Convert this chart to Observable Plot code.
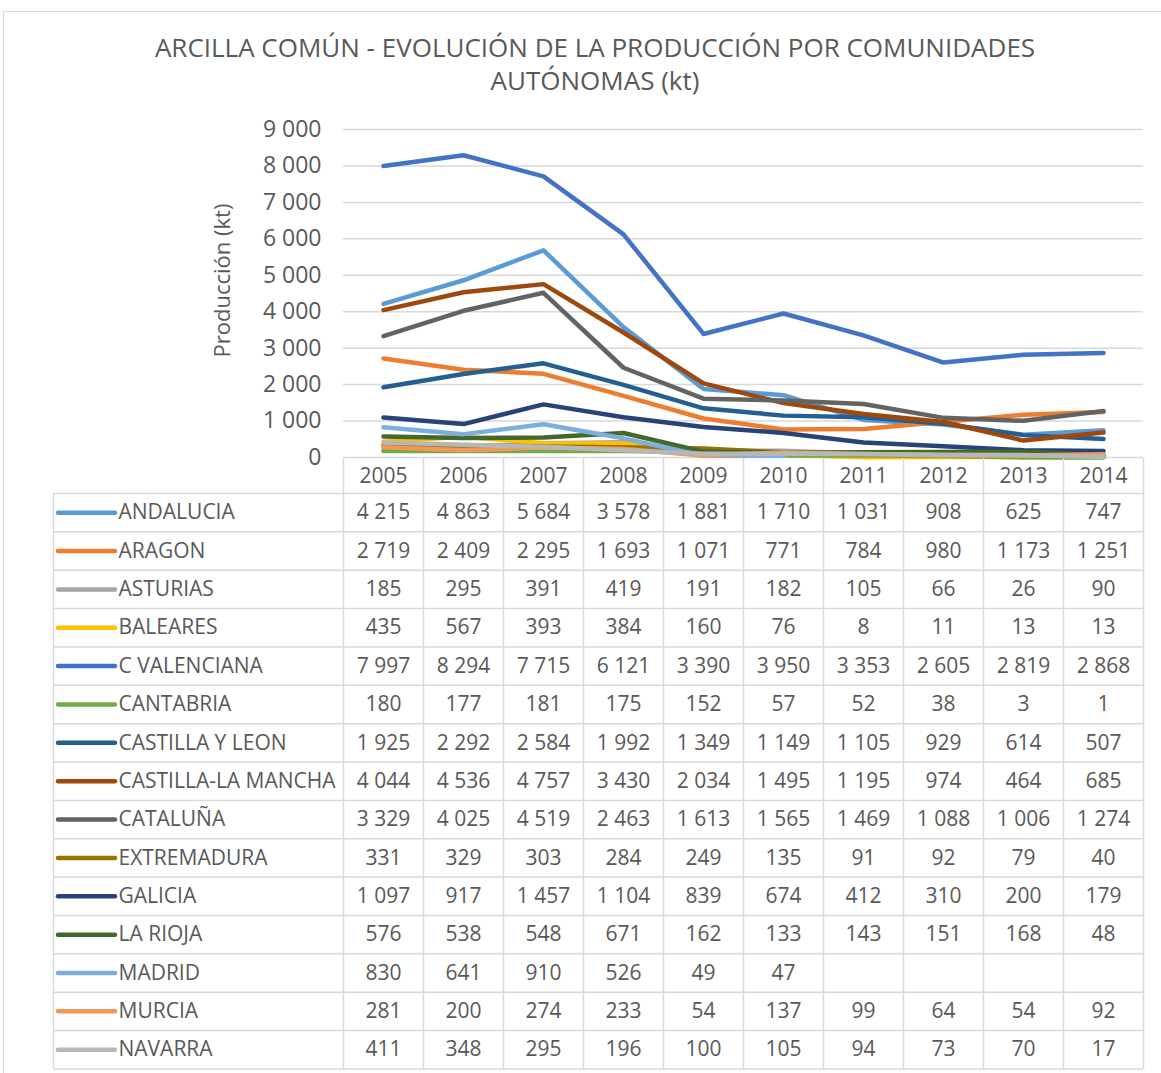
<!DOCTYPE html>
<html>
<head>
<meta charset="utf-8">
<script src="https://cdn.jsdelivr.net/npm/d3@7"></script>
<script src="https://cdn.jsdelivr.net/npm/@observablehq/plot@0.6"></script>
<style>
  html, body { margin: 0; padding: 0; background: #ffffff; }
  #wrap { position: relative; width: 1161px; height: 1073px; overflow: hidden; font-family: "Open Sans", sans-serif; }
  #frame { position: absolute; left: 3px; top: 11px; width: 1200px; height: 1100px; border: 1.5px solid #d9d9d9; box-sizing: border-box; }
  #title { position: absolute; left: 0; top: 31px; width: 1190px; text-align: center; color: #595959; font-size: 26px; line-height: 33px; }
  .layer { position: absolute; left: 0; top: 0; }
</style>
</head>
<body>
<div id="wrap">
  <div id="frame"></div>
  <div id="title"></div>
  <div id="chart" class="layer"></div>
  <div id="table" class="layer"></div>
</div>
<script>
// ---------- DATA ----------
const titleLines = ["ARCILLA COMÚN - EVOLUCIÓN DE LA PRODUCCIÓN POR COMUNIDADES", "AUTÓNOMAS (kt)"];
const yLabel = "Producción (kt)";
const years = ["2005","2006","2007","2008","2009","2010","2011","2012","2013","2014"];
const regions = ["ANDALUCIA","ARAGON","ASTURIAS","BALEARES","C VALENCIANA","CANTABRIA","CASTILLA Y LEON","CASTILLA-LA MANCHA","CATALUÑA","EXTREMADURA","GALICIA","LA RIOJA","MADRID","MURCIA","NAVARRA"];
const colors = ["#5B9BD5","#ED7D31","#A5A5A5","#FFC000","#4472C4","#70AD47","#255E91","#9E480E","#636363","#997300","#264478","#43682B","#7CAFDD","#F1975A","#B7B7B7"];

const andalucia        = [4215, 4863, 5684, 3578, 1881, 1710, 1031, 908, 625, 747];
const aragon           = [2719, 2409, 2295, 1693, 1071, 771, 784, 980, 1173, 1251];
const asturias         = [185, 295, 391, 419, 191, 182, 105, 66, 26, 90];
const baleares         = [435, 567, 393, 384, 160, 76, 8, 11, 13, 13];
const cValenciana      = [7997, 8294, 7715, 6121, 3390, 3950, 3353, 2605, 2819, 2868];
const cantabria        = [180, 177, 181, 175, 152, 57, 52, 38, 3, 1];
const castillaLeon     = [1925, 2292, 2584, 1992, 1349, 1149, 1105, 929, 614, 507];
const castillaLaMancha = [4044, 4536, 4757, 3430, 2034, 1495, 1195, 974, 464, 685];
const cataluna         = [3329, 4025, 4519, 2463, 1613, 1565, 1469, 1088, 1006, 1274];
const extremadura      = [331, 329, 303, 284, 249, 135, 91, 92, 79, 40];
const galicia          = [1097, 917, 1457, 1104, 839, 674, 412, 310, 200, 179];
const laRioja          = [576, 538, 548, 671, 162, 133, 143, 151, 168, 48];
const madrid           = [830, 641, 910, 526, 49, 47, null, null, null, null];
const murcia           = [281, 200, 274, 233, 54, 137, 99, 64, 54, 92];
const navarra          = [411, 348, 295, 196, 100, 105, 94, 73, 70, 17];

const series = [andalucia, aragon, asturias, baleares, cValenciana, cantabria, castillaLeon,
  castillaLaMancha, cataluna, extremadura, galicia, laRioja, madrid, murcia, navarra];

// ---------- BUILD ----------
const fmt = d3.formatLocale({decimal: ",", thousands: " ", grouping: [3], currency: ["", ""]}).format(",d");
const rows = [];
series.forEach((vals, k) => vals.forEach((v, i) => {
  rows.push({region: regions[k], k, year: years[i], i, value: v});
}));
const defined = rows.filter(d => d.value != null);

document.getElementById("title").innerHTML = titleLines.map(s => `<div>${s}</div>`).join("");

const textColor = "#595959";
const gridColor = "#d9d9d9";
const W = 1161;
const mL = 343, mR = 18;

// ---------- CHART ----------
const chart = Plot.plot({
  width: W, height: 470,
  marginLeft: mL, marginRight: mR, marginTop: 129, marginBottom: 13,
  style: {background: "transparent", color: textColor, fontFamily: "Open Sans, sans-serif", fontSize: "23px", overflow: "visible"},
  x: {type: "band", domain: years, padding: 0, axis: null},
  y: {domain: [0, 9000], ticks: 10, tickFormat: fmt, tickSize: 0, tickPadding: 22, label: null},
  color: {domain: regions, range: colors},
  marks: [
    Plot.ruleY(d3.range(0, 9001, 1000), {stroke: gridColor, strokeWidth: 1.5}),
    Plot.line(defined, {x: "year", y: "value", z: "region", stroke: "region", strokeWidth: 4.5,
      strokeLinecap: "round", strokeLinejoin: "round"}),
    Plot.text([yLabel], {frameAnchor: "left", textAnchor: "middle", rotate: -90, dx: -121, dy: -13, fontSize: 22, fill: textColor})
  ]
});
document.getElementById("chart").appendChild(chart);

// ---------- TABLE ----------
const labelUnits = 290 / 80;      // width of label column in column units
const headerUnits = 35 / 38.36;   // header height in row units
const nR = regions.length;
const table = Plot.plot({
  width: W, height: 1073,
  marginLeft: mL, marginRight: mR, marginTop: 493, marginBottom: 4.6,
  style: {background: "transparent", color: textColor, fontFamily: "Open Sans, sans-serif", fontSize: "21px", overflow: "visible"},
  x: {type: "linear", domain: [0, years.length], axis: null},
  y: {type: "linear", domain: [0, nR], reverse: true, axis: null},
  color: {domain: regions, range: colors},
  marks: [
    Plot.ruleY(d3.range(nR + 1), {x1: -labelUnits, x2: years.length, stroke: gridColor, strokeWidth: 1.5}),
    Plot.ruleX(d3.range(years.length + 1), {y1: -headerUnits, y2: nR, stroke: gridColor, strokeWidth: 1.5}),
    Plot.ruleX([-labelUnits], {y1: 0, y2: nR, stroke: gridColor, strokeWidth: 1.5}),
    Plot.text(years, {x: (d, i) => i + 0.5, y: () => -headerUnits / 2, text: d => d, fill: textColor}),
    Plot.text(defined, {x: d => d.i + 0.5, y: d => d.k + 0.5, text: d => fmt(d.value), fill: textColor}),
    Plot.ruleY(regions, {y: (d, k) => k + 0.5, x1: () => -labelUnits + 0.0625, x2: () => -labelUnits + 0.775,
      stroke: d => d, strokeWidth: 4.5, strokeLinecap: "round"}),
    Plot.text(regions, {x: () => -labelUnits + 0.8125, y: (d, k) => k + 0.5, text: d => d, textAnchor: "start", fill: textColor})
  ]
});
document.getElementById("table").appendChild(table);
</script>
</body>
</html>
